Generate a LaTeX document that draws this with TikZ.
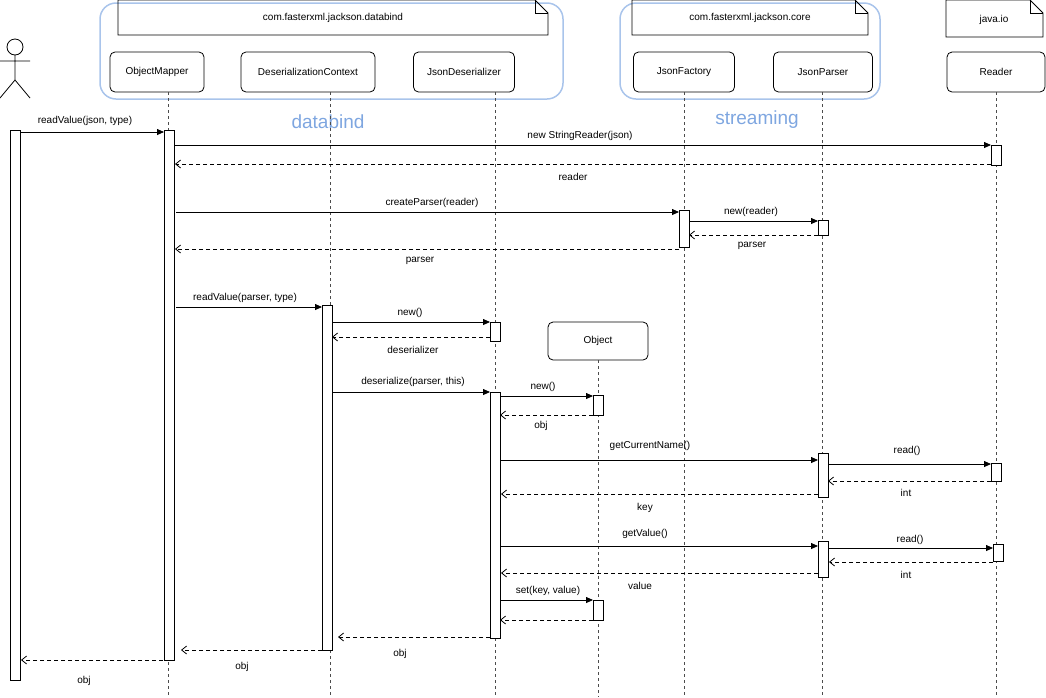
\documentclass[tikz,border=0pt]{standalone}
\usepackage{fontspec}
\setmainfont{Liberation Sans}
\usetikzlibrary{arrows.meta,shapes.misc}
\definecolor{grpc}{HTML}{A9C4EB}
\definecolor{bigc}{HTML}{7EA6E0}
\begin{document}
\begin{tikzpicture}[x=1pt,y=-1pt,font=\fontsize{10}{12}\selectfont,line width=0.8pt,
  hdr/.style={draw=black,solid,line width=0.8pt,rounded corners=5pt,minimum height=40pt,inner sep=0pt},
  act/.style={draw,fill=white,minimum width=10pt,inner sep=0pt},
  life/.style={dash pattern=on 3pt off 3pt,gray!60!black},
  call/.style={-{Triangle[length=7pt,width=6pt]}},
  ret/.style={dash pattern=on 4pt off 3pt,-{Straight Barb[length=5pt,width=8pt]}},
  grp/.style={draw=grpc,line width=1.5pt,rounded corners=16pt},
  big/.style={text=bigc,font=\fontsize{19}{22}\selectfont}]
\useasboundingbox (0,0) rectangle (1046,697);
% groups
\draw[grp] (100,3) rectangle (563,99);
\draw[grp] (620,3) rectangle (880,99);
% notes
\draw (118,0) -- (535,0) -- (548,13) -- (548,35) -- (118,35) -- cycle;
\draw (535,0) -- (535,13) -- (548,13);
\node at (333,18) {com.fasterxml.jackson.databind};
\draw (632,0) -- (855,0) -- (868,13) -- (868,35) -- (632,35) -- cycle;
\draw (855,0) -- (855,13) -- (868,13);
\node at (750,18) {com.fasterxml.jackson.core};
\draw (946,0) -- (1030,0) -- (1043,13) -- (1043,37) -- (946,37) -- cycle;
\draw (1030,0) -- (1030,13) -- (1043,13);
\node at (994,20) {java.io};
\node[big] at (328,122) {databind};
\node[big] at (757,120) {streaming};
% headers
\node[hdr,minimum width=94pt] (om) at (157,72) {ObjectMapper};
\node[hdr,minimum width=134pt] (dc) at (308,72) {DeserializationContext};
\node[hdr,minimum width=101pt] (jd) at (464,72) {JsonDeserializer};
\node[hdr,minimum width=101pt] (jf) at (684,72) {JsonFactory};
\node[hdr,minimum width=99pt] (jp) at (823,72) {JsonParser};
\node[hdr,minimum width=98pt] (rd) at (996,72) {Reader};
\node[hdr,minimum width=100pt,minimum height=38pt] (ob) at (598,341) {Object};
% lifelines
\draw[life] (168,92) -- (168,697);
\draw[life] (330,92) -- (330,697);
\draw[life] (495,92) -- (495,697);
\draw[life] (684,92) -- (684,697);
\draw[life] (822,92) -- (822,697);
\draw[life] (996,92) -- (996,697);
\draw[life] (598,360) -- (598,697);
% actor
\draw (15,47) circle (8);
\draw (15,55) -- (15,80) (0,61) -- (30,61) (0,98) -- (15,80) -- (30,98);
% activations
\node[act,minimum height=550pt] (aA) at (15,405) {};
\node[act,minimum height=530pt] (aOM) at (169,395) {};
\node[act,minimum height=20pt] (aR1) at (996,155) {};
\node[act,minimum height=37pt] (aJF) at (684,229) {};
\node[act,minimum height=15pt] (aJP1) at (823,228) {};
\node[act,minimum height=345pt] (aDC) at (327,478) {};
\node[act,minimum height=19pt] (aJD1) at (495,332) {};
\node[act,minimum height=246pt] (aJD2) at (495,515) {};
\node[act,minimum height=20pt] (aO1) at (598,405) {};
\node[act,minimum height=20pt] (aO2) at (598,610) {};
\node[act,minimum height=44pt] (aJP2) at (823,475) {};
\node[act,minimum height=36pt] (aJP3) at (823,559) {};
\node[act,minimum height=18pt] (aR2) at (996,472) {};
\node[act,minimum height=17pt] (aR3) at (998,553) {};
% messages
\newcommand\cmsg[6]{\draw[#1] (#2) -- (#3); \node[#6] at #4 {#5};}
\coordinate (p1a) at (20,132); \coordinate (p1b) at (164,132);
\cmsg{call}{p1a}{p1b}{(85,121)}{readValue(json, type)}{}
\coordinate (p2a) at (174,145); \coordinate (p2b) at (991,145);
\cmsg{call}{p2a}{p2b}{(580,136)}{new StringReader(json)}{}
\coordinate (p3a) at (991,164); \coordinate (p3b) at (175,164);
\cmsg{ret}{p3a}{p3b}{(573,177)}{reader}{}
\coordinate (p4a) at (176,212); \coordinate (p4b) at (679,212);
\cmsg{call}{p4a}{p4b}{(432,203)}{createParser(reader)}{}
\coordinate (p5a) at (689,221); \coordinate (p5b) at (818,221);
\cmsg{call}{p5a}{p5b}{(751,212)}{new(reader)}{}
\coordinate (p6a) at (818,235); \coordinate (p6b) at (689,235);
\cmsg{ret}{p6a}{p6b}{(752,246)}{parser}{}
\coordinate (p7a) at (679,249); \coordinate (p7b) at (175,249);
\cmsg{ret}{p7a}{p7b}{(420,261)}{parser}{}
\coordinate (p8a) at (176,307); \coordinate (p8b) at (322,307);
\cmsg{call}{p8a}{p8b}{(245,298)}{readValue(parser, type)}{}
\coordinate (p9a) at (332,322); \coordinate (p9b) at (490,322);
\cmsg{call}{p9a}{p9b}{(410,313)}{new()}{}
\coordinate (p10a) at (490,337); \coordinate (p10b) at (332,337);
\cmsg{ret}{p10a}{p10b}{(413,350)}{deserializer}{}
\coordinate (p11a) at (333,392); \coordinate (p11b) at (490,392);
\cmsg{call}{p11a}{p11b}{(413,382)}{deserialize(parser, this)}{}
\coordinate (p12a) at (500,396); \coordinate (p12b) at (593,396);
\cmsg{call}{p12a}{p12b}{(543,387)}{new()}{}
\coordinate (p13a) at (593,415); \coordinate (p13b) at (500,415);
\cmsg{ret}{p13a}{p13b}{(541,426)}{obj}{}
\coordinate (p14a) at (500,460); \coordinate (p14b) at (818,460);
\cmsg{call}{p14a}{p14b}{(650,446)}{getCurrentName()}{}
\coordinate (p15a) at (828,464); \coordinate (p15b) at (991,464);
\cmsg{call}{p15a}{p15b}{(907,451)}{read()}{}
\coordinate (p16a) at (991,481); \coordinate (p16b) at (828,481);
\cmsg{ret}{p16a}{p16b}{(906,493)}{int}{}
\coordinate (p17a) at (818,494); \coordinate (p17b) at (501,494);
\cmsg{ret}{p17a}{p17b}{(645,508)}{key}{}
\coordinate (p18a) at (500,546); \coordinate (p18b) at (818,546);
\cmsg{call}{p18a}{p18b}{(645,534)}{getValue()}{}
\coordinate (p19a) at (828,548); \coordinate (p19b) at (993,548);
\cmsg{call}{p19a}{p19b}{(910,540)}{read()}{}
\coordinate (p20a) at (993,562); \coordinate (p20b) at (829,562);
\cmsg{ret}{p20a}{p20b}{(906,575)}{int}{}
\coordinate (p21a) at (818,573); \coordinate (p21b) at (501,573);
\cmsg{ret}{p21a}{p21b}{(640,586)}{value}{}
\coordinate (p22a) at (500,600); \coordinate (p22b) at (593,600);
\cmsg{call}{p22a}{p22b}{(548,591)}{set(key, value)}{}
\coordinate (p23a) at (593,620); \coordinate (p23b) at (500,620);
\draw[ret] (p23a) -- (p23b);
\coordinate (p24a) at (490,637); \coordinate (p24b) at (338,637);
\cmsg{ret}{p24a}{p24b}{(400,654)}{obj}{}
\coordinate (p25a) at (322,650); \coordinate (p25b) at (181,650);
\cmsg{ret}{p25a}{p25b}{(242,667)}{obj}{}
\coordinate (p26a) at (163,660); \coordinate (p26b) at (21,660);
\cmsg{ret}{p26a}{p26b}{(84,681)}{obj}{}
\end{tikzpicture}
\end{document}
